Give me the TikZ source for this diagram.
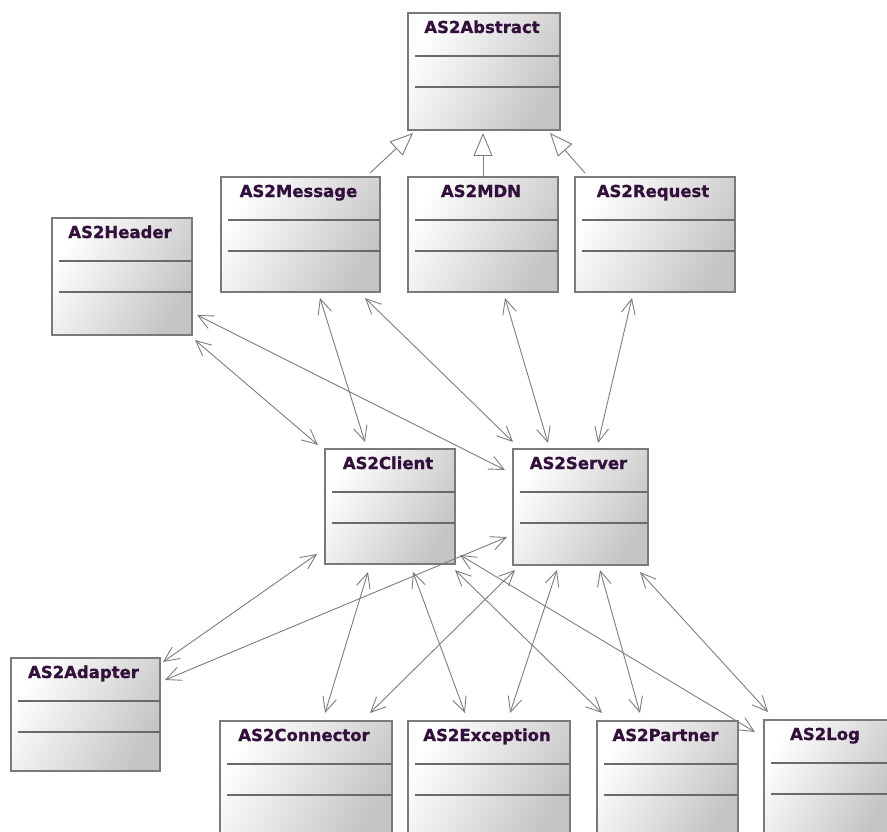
\documentclass[tikz,border=0pt]{standalone}
\usepackage{fontspec}
\newfontfamily\umlfont{DejaVu Sans}[BoldFeatures={FakeBold=0.9}]
\usetikzlibrary{arrows.meta}

\definecolor{titlecol}{HTML}{33103C}
\definecolor{boxline}{HTML}{7A7A7A}
\definecolor{divline}{HTML}{6A6A6A}
\definecolor{shadeend}{HTML}{C4C4C4}
\definecolor{linkcol}{HTML}{7C7C7C}

\tikzset{
  umlbox/.style={draw=boxline, line width=1.3pt, top color=white, bottom color=shadeend,
    shading angle=60, anchor=north west, inner sep=0pt, outer sep=0pt},
  umltitle/.style={font=\umlfont\bfseries\fontsize{16.5}{18}\selectfont, text=titlecol,
    anchor=base, inner sep=0pt},
  divider/.style={draw=divline, line width=1.4pt},
  assoc/.style={draw=linkcol, line width=0.9pt,
    {Straight Barb[length=15pt,width=14pt]}-{Straight Barb[length=15pt,width=14pt]}},
  general/.style={draw=linkcol, line width=0.9pt,
    -{Triangle[open,length=23pt,width=19pt,fill=white]}},
}

% class box: name, x, y, width, height, title
\newcommand\umlclass[6]{%
  \node[umlbox, minimum width=#4pt, minimum height=#5pt] (#1) at (#2,#3) {};
  \draw[divider] ([shift={(7,43)}]#1.north west) -- ([shift={(0,43)}]#1.north east);
  \draw[divider] ([shift={(7,74)}]#1.north west) -- ([shift={(0,74)}]#1.north east);
  \node[umltitle] (#1-title) at ([shift={(-2,20)}]#1.north) {#6};
}

\begin{document}
\begin{tikzpicture}[x=1pt, y=-1pt]
  \useasboundingbox (0,0) rectangle (887,832);
  \clip (0,0) rectangle (887,832);

  % classes
  \umlclass{abs}{408}{13}{152}{117}{AS2Abstract}
  \umlclass{msg}{221}{177}{159}{115}{AS2Message}
  \umlclass{mdn}{408}{177}{150}{115}{AS2MDN}
  \umlclass{req}{575}{177}{160}{115}{AS2Request}
  \umlclass{hdr}{52}{218}{140}{117}{AS2Header}
  \umlclass{cli}{325}{449}{130}{115}{AS2Client}
  \umlclass{srv}{513}{449}{135}{116}{AS2Server}
  \umlclass{adp}{11}{658}{149}{113}{AS2Adapter}
  \umlclass{con}{220}{721}{172}{116}{AS2Connector}
  \umlclass{exc}{408}{721}{162}{116}{AS2Exception}
  \umlclass{par}{597}{721}{141}{116}{AS2Partner}
  \umlclass{log}{764}{720}{126}{117}{AS2Log}

  % generalizations
  \draw[general] ([shift={(-10,-4)}]msg.north east) -- ([shift={(5,3)}]abs.south west);
  \draw[general] ([shift={(75,0)}]mdn.north west) -- ([shift={(75,3)}]abs.south west);
  \draw[general] ([shift={(10,-4)}]req.north west) -- ([shift={(-10,3)}]abs.south east);

  % associations, upper part
  \draw[assoc] ([shift={(5,-20)}]hdr.south east) -- ([shift={(-8,21)}]srv.north west);
  \draw[assoc] ([shift={(3,5)}]hdr.south east) -- ([shift={(-7,-4)}]cli.north west);
  \draw[assoc] ([shift={(99,6)}]msg.south west) -- ([shift={(40,-7)}]cli.north west);
  \draw[assoc] ([shift={(144,6)}]msg.south west) -- ([shift={(0,-7)}]srv.north west);
  \draw[assoc] ([shift={(97,6)}]mdn.south west) -- ([shift={(35,-6)}]srv.north west);
  \draw[assoc] ([shift={(57,6)}]req.south west) -- ([shift={(85,-6)}]srv.north west);

  % associations, lower part
  \draw[assoc] ([shift={(-8,-10)}]cli.south west) -- ([shift={(3,4)}]adp.north east);
  \draw[assoc] ([shift={(-6,88)}]srv.north west) -- ([shift={(5,22)}]adp.north east);
  \draw[assoc] ([shift={(43,8)}]cli.south west) -- ([shift={(105,-8)}]con.north west);
  \draw[assoc] ([shift={(2,5)}]srv.south west) -- ([shift={(150,-8)}]con.north west);
  \draw[assoc] ([shift={(88,8)}]cli.south west) -- ([shift={(57,-8)}]exc.north west);
  \draw[assoc] ([shift={(44,5)}]srv.south west) -- ([shift={(102,-8)}]exc.north west);
  \draw[assoc] ([shift={(0,6)}]cli.south east) -- ([shift={(5,-8)}]par.north west);
  \draw[assoc] ([shift={(87,5)}]srv.south west) -- ([shift={(43,-8)}]par.north west);
  \draw[assoc] ([shift={(5,-9)}]cli.south east) -- ([shift={(-9,12)}]log.north west);
  \draw[assoc] ([shift={(-8,7)}]srv.south east) -- ([shift={(4,-8)}]log.north west);
\end{tikzpicture}
\end{document}
